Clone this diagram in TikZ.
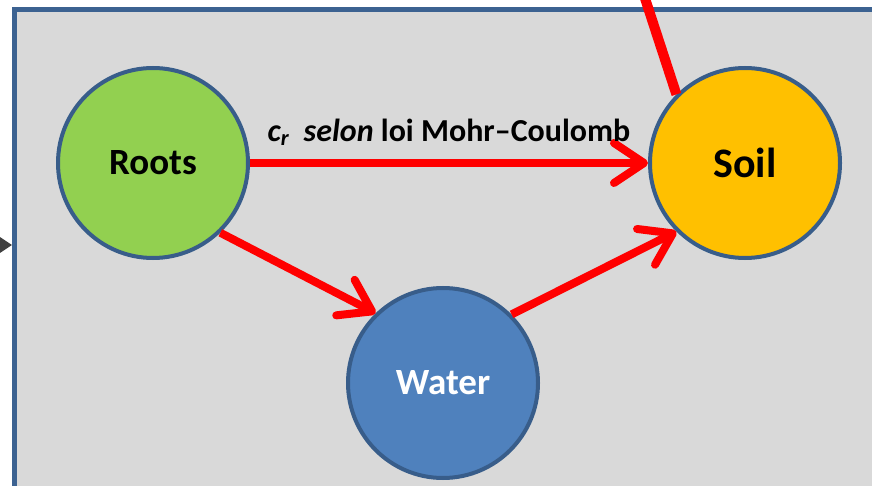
\documentclass[tikz,border=0pt]{standalone}
\usepackage{fontspec}
\setmainfont{Carlito}
\usetikzlibrary{arrows.meta}
\definecolor{panelgrey}{HTML}{D9D9D9}
\definecolor{panelblue}{HTML}{3C6291}
\definecolor{ringblue}{HTML}{385D8A}
\definecolor{rootgreen}{HTML}{92D050}
\definecolor{soilgold}{HTML}{FFC000}
\definecolor{waterblue}{HTML}{4F81BD}
\definecolor{redline}{HTML}{FF0000}
\begin{document}
\begin{tikzpicture}[x=1pt, y=-1pt,
    blob/.style={circle, draw=ringblue, line width=4pt, minimum size=190pt,
      inner sep=0pt, font=\fontsize{37}{40}\selectfont\bfseries},
    link/.style={draw=redline, line width=8pt,
      -{Straight Barb[length=30pt, width=40pt, line width=8pt, round]}}]
    \useasboundingbox (0,0) rectangle (872,486);
    \fill[panelgrey] (14,10) rectangle (900,520);
    \draw[panelblue, line width=5pt] (900,10) -- (14,10) -- (14,520);
    % incoming arrow tip on the left
    \coordinate (inleft) at (-30,245);
    \coordinate (inend) at (12,245);
    \draw[black!75, line width=2pt, -{Triangle[length=14pt, width=18pt]}] (inleft) -- (inend);
    % the three nodes
    \node[blob, fill=rootgreen] (roots) at (153,163) {Roots};
    \node[blob, fill=soilgold, font=\fontsize{42}{46}\selectfont\bfseries] (soil) at (745,163) {Soil};
    \node[blob, fill=waterblue, text=white] (water) at (443,383) {Water};
    % links
    \coordinate (intop) at (639,-20);
    \draw[redline, line width=10pt] (intop) -- (soil.135);
    \draw[link] (roots) -- (soil)
      node[midway, anchor=base, yshift=21pt, inner sep=0pt, text=black,
        font=\fontsize{32}{36}\selectfont\bfseries]
      {{\itshape c\textsubscript{r}}\ \ {\itshape selon} loi Mohr–Coulomb};
    \draw[link] (roots.-46) -- (water.134);
    \draw[link] (water.45) -- (soil.225);
\end{tikzpicture}
\end{document}
